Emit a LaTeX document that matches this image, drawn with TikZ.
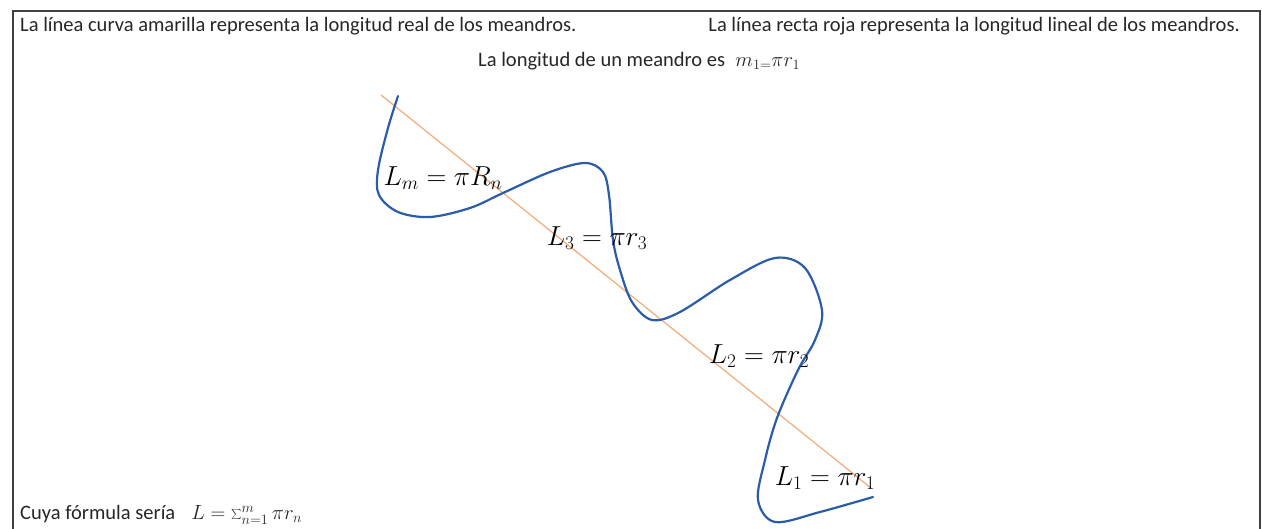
\RequirePackage{fix-cm}
\documentclass[tikz,border=0pt]{standalone}
\usepackage{fontspec}
\setmainfont{Carlito}
\begin{document}
\begin{tikzpicture}[x=1pt,y=-1pt,
  txt/.style={inner sep=0pt,font=\fontsize{20.5}{24}\selectfont,text=black!85},
  lbl/.style={inner sep=0pt,font=\fontsize{27.5}{33}\selectfont,text=black},
  meander/.style={draw={rgb,255:red,42;green,92;blue,170},line width=2.2pt,line cap=round},
  straight/.style={draw={rgb,255:red,244;green,170;blue,120},line width=1.2pt}]
\useasboundingbox (0,0) rectangle (1262,529);
\draw[line width=2.5pt,draw=black!75] (13,529) -- (13,11) -- (1260,11) -- (1260,529);
% text
\node[txt,anchor=west] (t1) at (20,26) {La línea curva amarilla representa la longitud real de los meandros.};
\node[txt,anchor=east] (t2) at (1240,26) {La línea recta roja representa la longitud lineal de los meandros.};
\node[txt,anchor=west] (t3) at (478,61) {La longitud de un meandro es\; $m_{1=}\pi r_1$};
\node[txt,anchor=west] (t4) at (20,515) {Cuya fórmula sería\;\; $L=\sum_{n=1}^{m}\pi r_n$};
% straight line
\coordinate (a) at (381,95);
\coordinate (b) at (871,488);
\draw[straight] (a) -- (b);
% meander curve
\draw[meander] plot[smooth,tension=0.55] coordinates {
 (398,96) (388,128) (378,170) (379,195) (398,212) (430,217) (470,208) (503,193) (550,172) (585,163) (603,172) (609,195) (613,240) (620,270) (632,302) (652,320) (680,312) (730,280) (775,258) (805,268) (822,310) (815,340) (798,370) (777,418) (765,460) (758,500) (775,522) (820,512) (873,497)};
% labels
\node[lbl] (lm) at (443,178) {$L_m=\pi R_n$};
\node[lbl] (l3) at (597,238) {$L_3=\pi r_3$};
\node[lbl] (l2) at (759,356) {$L_2=\pi r_2$};
\node[lbl] (l1) at (825,478) {$L_1=\pi r_1$};
\end{tikzpicture}
\end{document}
